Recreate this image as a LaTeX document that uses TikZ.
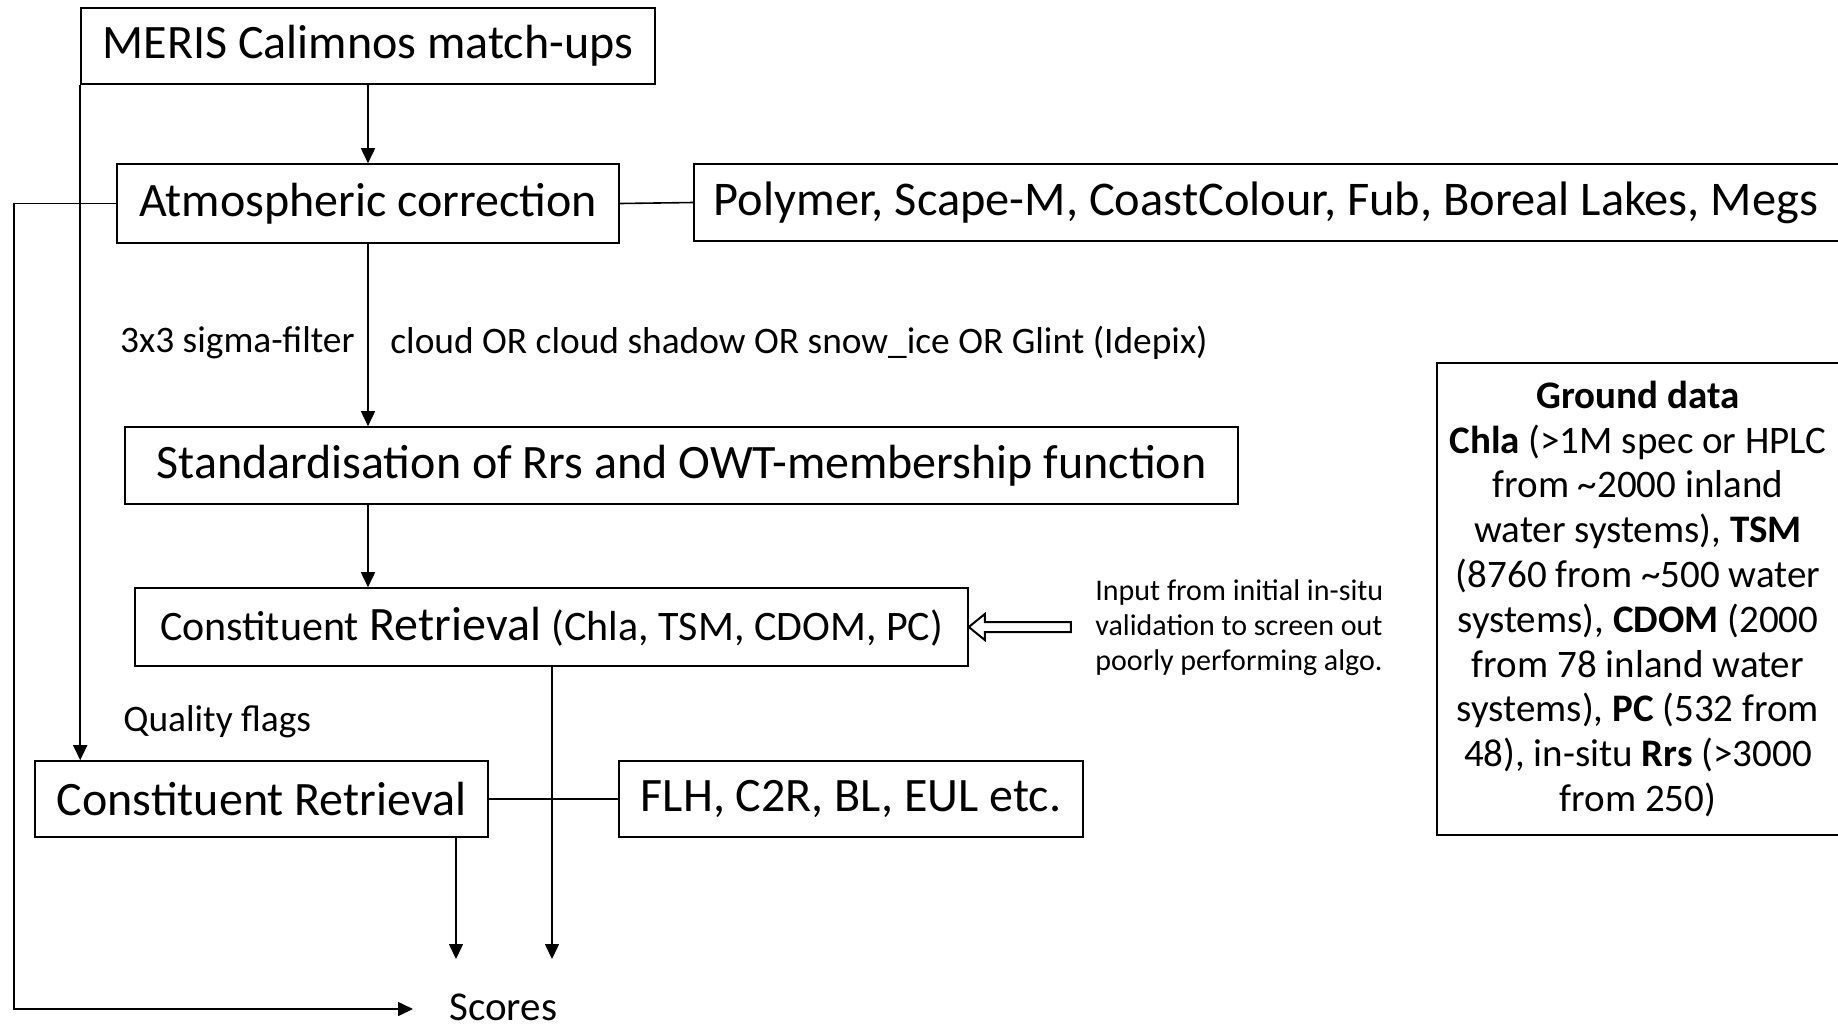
\documentclass[tikz,border=0pt]{standalone}
\usepackage{fontspec}
\setmainfont{Carlito}
\usetikzlibrary{arrows.meta}
\frenchspacing

\begin{document}
\begin{tikzpicture}[
x=0.5pt, y=-0.5pt,
stage/.style={
	rectangle, draw=black, line width=0.8pt,
	inner sep=0pt, minimum height=38pt,
	font=\fontsize{24}{28}\selectfont,
},
note/.style={inner sep=0pt, font=\fontsize{18.7}{22}\selectfont},
link/.style={draw, line width=0.8pt},
flow/.style={link, -{Triangle[length=7.5pt,width=7pt]}},
hollow/.style={draw, line width=1pt, line join=miter, fill=white},
]
\clip (0,0) rectangle (1838,1030);

% main chain
\node[stage, minimum width=287pt] (meris) at (368,46) {MERIS Calimnos match-ups};
\node[stage, minimum width=251pt, minimum height=39.5pt] (atmos) at (368,203.5) {Atmospheric correction};
\node[stage, anchor=west, inner xsep=10pt, minimum height=38.5pt, font=\fontsize{24.2}{28}\selectfont] (poly) at (693,202.5)
    {\makebox[565pt][l]{Polymer, Scape-M, CoastColour, Fub, Boreal Lakes, Megs}};
\node[note, anchor=east] (sigma) at (355,343) {3x3 sigma-filter};
\node[note, anchor=west] (cloud) at (390,343) {cloud OR cloud shadow OR snow\_ice OR Glint (Idepix)};
\node[stage, minimum width=556.5pt, minimum height=38.5pt] (std) at (681.5,465.5)
    {Standardisation of Rrs and OWT-membership function};
\node[stage, minimum width=416.5pt, minimum height=39pt] (cr1) at (551.5,627)
    {{\fontsize{21}{24}\selectfont Constituent} Retrieval {\fontsize{21}{24}\selectfont (Chla, TSM, CDOM, PC)}};
\node[inner sep=0pt, anchor=west, align=left, font=\fontsize{15}{17.5}\selectfont] (input) at (1095,628)
    {Input from initial in-situ\\validation to screen out\\poorly performing algo.};

% ground data
\node[stage, minimum width=201pt, minimum height=236pt, align=center,
      font=\fontsize{19.5}{22.4}\selectfont] (ground) at (1638,599) {
    \textbf{Ground data}\\
    \textbf{Chla} (>1M spec or HPLC\\
    from \textasciitilde2000 inland\\
    water systems), \textbf{TSM}\\
    (8760 from \textasciitilde500 water\\
    systems), \textbf{CDOM} (2000\\
    from 78 inland water\\
    systems), \textbf{PC} (532 from\\
    48), in-situ \textbf{Rrs} (>3000\\
    from 250)};

% second retrieval
\node[note, anchor=west] (qflags) at (123,722) {Quality flags};
\node[stage, minimum width=226.5pt] (cr2) at (261.5,799) {Constituent Retrieval};
\node[stage, minimum width=232pt] (flh) at (851,799) {FLH, C2R, BL, EUL etc.};
\node[inner sep=0pt, anchor=west, font=\fontsize{20.5}{24}\selectfont] (scores) at (449,1007) {Scores};

\coordinate (loopL) at (14,1009);
\coordinate (sink1) at (552,959);
\coordinate (sink2) at (456,959);

% connectors
\draw[flow] (meris) -- (atmos);
\draw[link] (atmos.east) -- (poly.west);
\draw[flow] (atmos.south) -- (atmos.south |- std.north);
\draw[flow] (std.south -| atmos) -- (cr1.north -| atmos);
% open block arrow from the input note
\draw[hollow] (cr1.east) -- ++(16,-13) -- ++(0,8) -- ++(86,0) -- ++(0,10) -- ++(-86,0) -- ++(0,8) -- cycle;
\draw[flow] (meris.south west) -- (meris.south west |- cr2.north);
\draw[flow] (atmos.west) -| (loopL) -- (loopL -| scores.west) [shorten >=18pt];
\draw[link] (cr2.east) -- (flh.west);
\draw[flow] (cr1.south -| sink1) -- (sink1);
\draw[flow] (cr2.south -| sink2) -- (sink2);
\end{tikzpicture}
\end{document}
